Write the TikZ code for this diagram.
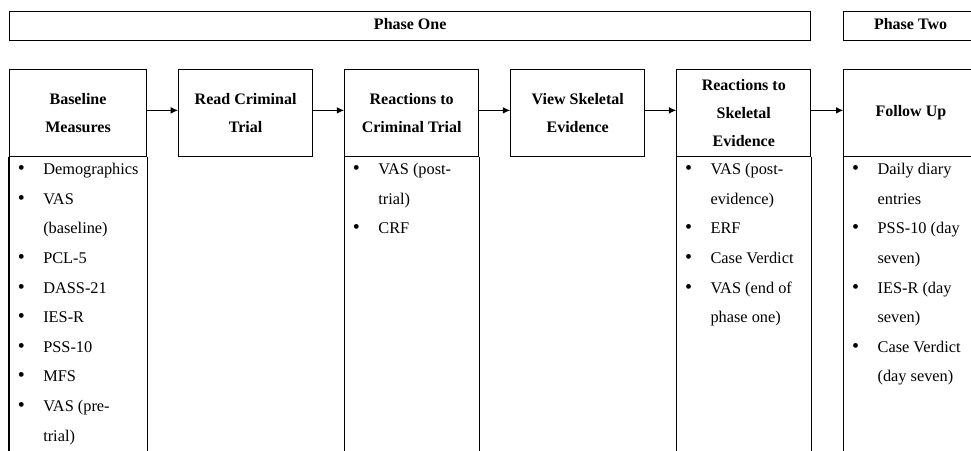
\documentclass[tikz,border=0pt]{standalone}
\usepackage{fontspec}
\setmainfont{Liberation Serif}
\usetikzlibrary{arrows.meta, positioning}

% bullet and continuation indents for the measure lists
\newcommand{\itm}{\makebox[13.5pt]{\fontsize{15pt}{15pt}\selectfont\textbullet}\hspace*{9.75pt}}
\newcommand{\cnt}{\hspace*{23.25pt}}

\begin{document}
\begin{tikzpicture}[
    node distance=23.25pt,
    font=\fontsize{12pt}{21pt}\selectfont\bfseries,
    stage/.style={
        draw,
        line width=0.8pt,
        align=center,
        inner sep=0pt,
        minimum height=65.25pt,
        minimum width=100.5pt
    },
    phase/.style={
        draw,
        line width=0.8pt,
        anchor=north west,
        inner sep=0pt,
        text height=9pt,
        text depth=4.5pt,
        minimum height=21.75pt
    },
    itemlist/.style={
        anchor=north west,
        align=left,
        inner sep=0pt,
        font=\fontsize{12.25pt}{22.2pt}\selectfont\mdseries
    },
    frame/.style={line width=0.8pt},
    arrow/.style={-{Latex[length=5.5pt,width=5pt]}, line width=0.8pt}
]

    \useasboundingbox (0,0) rectangle (728.25pt,-337.5pt);
    \clip (0,0) rectangle (728.25pt,-337.5pt);

    % Phases
    \node[phase, minimum width=601pt] (phaseone) at (6.75pt,-8.25pt) {Phase One};
    \node[phase, minimum width=100.5pt] (phasetwo) at (632.25pt,-8.25pt) {Phase Two};

    % Stages
    \node[stage, minimum width=102.75pt, anchor=north west] (baseline) at (6.75pt,-51.75pt) {Baseline\\Measures};
    \node[stage, right=of baseline] (readtrial) {Read Criminal\\Trial};
    \node[stage, right=of readtrial] (trialreact) {Reactions to\\Criminal Trial};
    \node[stage, right=of trialreact] (viewbones) {View Skeletal\\Evidence};
    \node[stage, right=of viewbones] (bonereact) {Reactions to\\Skeletal\\Evidence};
    \node[stage, right=24pt of bonereact] (followup) {Follow Up};

    % Measure lists
    \node[itemlist] (baselist) at ([xshift=2.25pt,yshift=-4.5pt]baseline.south west)
        {\itm Demographics\\ \itm VAS\\ \cnt (baseline)\\ \itm PCL-5\\ \itm DASS-21\\
         \itm IES-R\\ \itm PSS-10\\ \itm MFS\\ \itm VAS (pre-\\ \cnt trial)};
    \node[itemlist] (triallist) at ([xshift=2.25pt,yshift=-4.5pt]trialreact.south west)
        {\itm VAS (post-\\ \cnt trial)\\ \itm CRF};
    \node[itemlist] (bonelist) at ([xshift=2.25pt,yshift=-4.5pt]bonereact.south west)
        {\itm VAS (post-\\ \cnt evidence)\\ \itm ERF\\ \itm Case Verdict\\
         \itm VAS (end of\\ \cnt phase one)};
    \node[itemlist] (followlist) at ([xshift=2.25pt,yshift=-4.5pt]followup.south west)
        {\itm Daily diary\\ \cnt entries\\ \itm PSS-10 (day\\ \cnt seven)\\
         \itm IES-R (day\\ \cnt seven)\\ \itm Case Verdict\\ \cnt (day seven)};

    % Column frames
    \foreach \col in {baseline, trialreact, bonereact, followup} {
        \draw[frame] (\col.south west) -- ++(0,-240pt);
        \draw[frame] (\col.south east) -- ++(0,-240pt);
    }

    % Edges
    \draw[arrow] ([yshift=2pt]baseline.east) -- ([yshift=2pt]readtrial.west);
    \draw[arrow] ([yshift=2pt]readtrial.east) -- ([yshift=2pt]trialreact.west);
    \draw[arrow] ([yshift=2pt]trialreact.east) -- ([yshift=2pt]viewbones.west);
    \draw[arrow] ([yshift=2pt]viewbones.east) -- ([yshift=2pt]bonereact.west);
    \draw[arrow] ([yshift=2pt]bonereact.east) -- ([yshift=2pt]followup.west);

\end{tikzpicture}
\end{document}
